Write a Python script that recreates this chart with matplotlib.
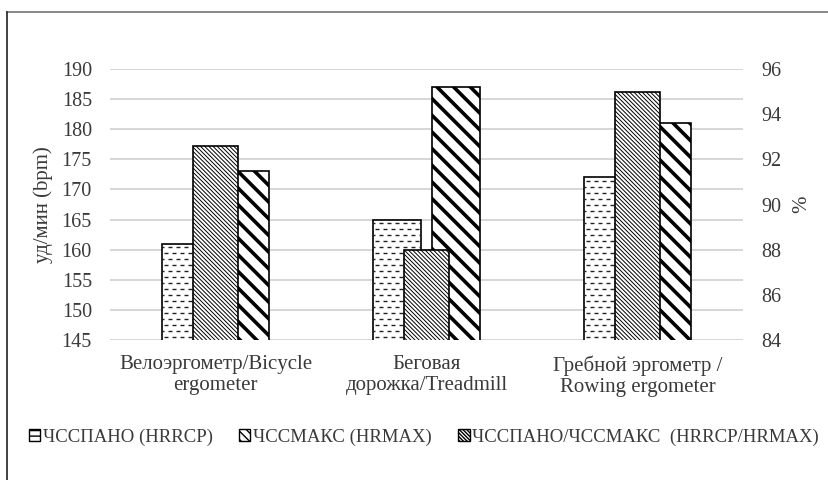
import numpy as np
import matplotlib.pyplot as plt
from matplotlib.collections import LineCollection
from matplotlib.patches import Patch
from matplotlib.lines import Line2D

plt.rcParams['font.family'] = ['Liberation Serif', 'DejaVu Serif']

categories = ['Велоэргометр/Bicycle\nergometer',
              'Беговая\nдорожка/Treadmill',
              'Гребной эргометр /\nRowing ergometer']
hrrcp = [161, 165, 172]          # уд/мин
hrmax = [173, 187, 181]          # уд/мин
ratio = [92.6, 88.0, 95.0]       # %
names = ['ЧССПАНО (HRRCP)', 'ЧССМАКС (HRMAX)', 'ЧССПАНО/ЧССМАКС  (HRRCP/HRMAX)']

text_col = '#3a3a3a'
grid_col = '#d0d0d0'
thick_lw = 2.6
fine_lw = 0.7

fig = plt.figure(figsize=(8.29, 4.8), dpi=100)
ax = fig.add_axes([110/829, 1 - 340/480, 633/829, 271/480])
ax2 = ax.twinx()

x = np.arange(len(categories))
w1 = 0.227
off = 0.14
w2 = 0.218

# основная ось: ЧССПАНО и ЧССМАКС
bars1 = ax.bar(x - off, hrrcp, w1, color='white', edgecolor='black', linewidth=1.2, zorder=2)
with plt.rc_context({'hatch.linewidth': thick_lw}):
    bars3 = ax.bar(x + off, hrmax, w1, color='white', edgecolor='black', linewidth=1.2,
                   hatch='\\\\', zorder=2)
for b in bars3:
    if hasattr(b, 'set_hatch_linewidth'):
        b.set_hatch_linewidth(thick_lw)

ax.set_xlim(-0.5, 2.5)
ax.set_ylim(145, 190)
ax.set_yticks(np.arange(145, 191, 5))
ax.yaxis.grid(True, color=grid_col, linewidth=1.2, zorder=0)
ax.set_axisbelow(True)

# штриховка пунктиром для ЧССПАНО
px_x = 3 / 633
px_y = 45 / 271
for b in bars1:
    x0, bw, top = b.get_x(), b.get_width(), b.get_height()
    segs = []
    row = 0
    yy = 145 + 3 * px_y
    while yy < top:
        shift = 0 if row % 2 == 0 else 4 * px_x
        xx = x0 + 1.5 * px_x - shift
        while xx < x0 + bw:
            segs.append([(xx, yy), (xx + 4.5 * px_x, yy)])
            xx += 8 * px_x
        yy += 6 * px_y
        row += 1
    lc = LineCollection(segs, colors='#222222', linewidths=1.0, zorder=2.5)
    ax.add_collection(lc)
    lc.set_clip_path(b)

# вспомогательная ось: отношение, %
with plt.rc_context({'hatch.linewidth': fine_lw}):
    bars2 = ax2.bar(x, ratio, w2, color='white', edgecolor='black', linewidth=1.2,
                    hatch='\\\\\\\\\\\\\\\\', zorder=3)
for b in bars2:
    if hasattr(b, 'set_hatch_linewidth'):
        b.set_hatch_linewidth(fine_lw)
ax2.set_ylim(84, 96)
ax2.set_yticks(np.arange(84, 97, 2))

for a in (ax, ax2):
    for s in a.spines.values():
        s.set_visible(False)
    a.tick_params(length=0, labelsize=14.5, labelcolor=text_col)
ax.tick_params(axis='y', pad=13)
ax2.tick_params(axis='y', pad=13)
ax.tick_params(axis='x', pad=11)
ax.set_xticks(x)
ax.set_xticklabels(categories, fontsize=15, color=text_col, linespacing=1.15)

ax.set_ylabel('уд/мин (bpm)', fontsize=15, color=text_col, labelpad=6)
ax2.set_ylabel('%', fontsize=15, color=text_col, rotation=90, labelpad=8)

# значки легенды (мелкие квадраты, штриховка гуще)
leg_specs = [('---', 1.0), ('\\\\\\\\', 1.6), ('\\\\\\\\\\\\\\\\\\', 0.5)]
handles = []
for hatch, lw in leg_specs:
    with plt.rc_context({'hatch.linewidth': lw}):
        h = Patch(facecolor='white', edgecolor='black', hatch=hatch, linewidth=1.0)
    if hasattr(h, 'set_hatch_linewidth'):
        h.set_hatch_linewidth(lw)
    handles.append(h)

leg = fig.legend(handles, names, loc='center', bbox_to_anchor=(424/829, 1 - 437/480),
                 ncol=3, frameon=False, fontsize=13.5, handlelength=0.6, handleheight=0.6,
                 handletextpad=0.15, columnspacing=1.4, labelcolor=text_col)

# рамка рисунка
fig.add_artist(Line2D([7/829, 1.0], [1 - 12/480, 1 - 12/480], transform=fig.transFigure,
                      color='#777777', linewidth=1.2))
fig.add_artist(Line2D([7/829, 7/829], [1 - 12/480, 0], transform=fig.transFigure,
                      color='#222222', linewidth=1.2))

fig.savefig('out.png', dpi=100)
